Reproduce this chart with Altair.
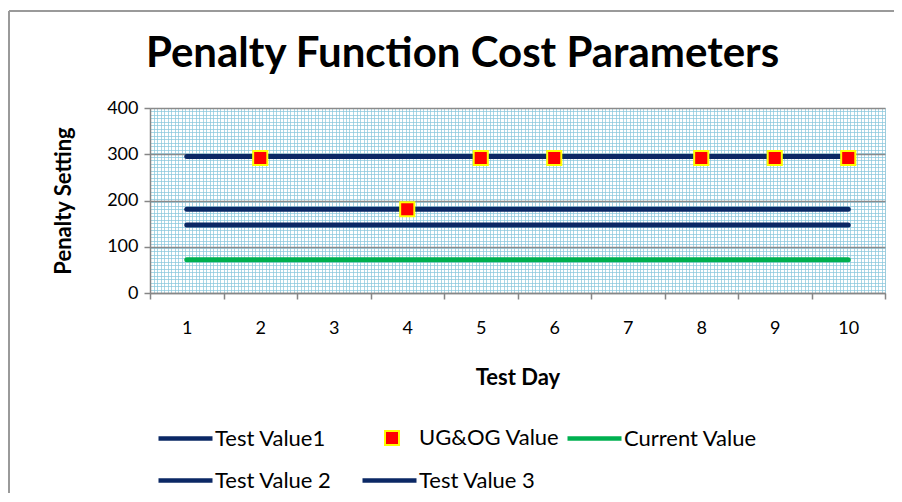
import altair as alt
import pandas as pd

days = ["1", "2", "3", "4", "5", "6", "7", "8", "9", "10"]
test_value1 = [295, 295, 295, 295, 295, 295, 295, 295, 295, 295]
test_value2 = [181, 181, 181, 181, 181, 181, 181, 181, 181, 181]
test_value3 = [147, 147, 147, 147, 147, 147, 147, 147, 147, 147]
current_value = [72, 72, 72, 72, 72, 72, 72, 72, 72, 72]
ug_days = ["2", "4", "5", "6", "8", "9", "10"]
ug_values = [292, 181, 292, 292, 292, 292, 292]

NAVY = "#0b2865"
GREEN = "#00b050"
RED = "#ff0000"
YELLOW = "#ffff00"
FONT = "Lato"

W, H = 735, 185

# legend placement (relative to plot area), one single-entry legend per series
legend_pos = {
    "Test Value1": (6, 301),
    "Test Value 2": (6, 343),
    "Test Value 3": (210, 343),
    "Current Value": (415, 301),
}


def line_df(name, vals):
    return pd.DataFrame({"day": days, "value": vals, "series": [name] * len(days)})


x_enc = alt.X(
    "day:N",
    sort=days,
    scale=alt.Scale(type="band", paddingInner=0, paddingOuter=0),
    axis=alt.Axis(
        title="Test Day",
        titleFont=FONT, titleFontSize=22, titleFontWeight="bold", titleColor="#000000",
        titlePadding=30,
        labelFont=FONT, labelFontSize=18, labelColor="#000000", labelAngle=0,
        labelPadding=20,
        tickBand="extent", tickSize=6, tickColor="#868686", tickWidth=1.5,
        domainColor="#868686", domainWidth=1.5,
        grid=False,
    ),
)
y_enc = alt.Y(
    "value:Q",
    scale=alt.Scale(domain=[0, 400], nice=False),
    axis=alt.Axis(
        title="Penalty Setting",
        titleFont=FONT, titleFontSize=22, titleFontWeight="bold", titleColor="#000000",
        titlePadding=31,
        labelFont=FONT, labelFontSize=18, labelColor="#000000", labelPadding=6,
        values=[0, 100, 200, 300, 400],
        tickSize=6, tickColor="#868686", tickWidth=1.5,
        domainColor="#868686", domainWidth=1.5,
        grid=True, gridColor="#8a8a8a", gridWidth=1.5,
    ),
)


def line_layer(name, vals, col):
    lx, ly = legend_pos[name]
    return alt.Chart(line_df(name, vals)).mark_line(strokeWidth=5, strokeCap="round").encode(
        x=x_enc,
        y=y_enc,
        color=alt.Color(
            "series:N",
            scale=alt.Scale(domain=[name], range=[col]),
            legend=alt.Legend(
                title=None, orient="none", legendX=lx, legendY=ly, padding=0,
                symbolType="stroke", symbolSize=2916, symbolStrokeWidth=4.5,
                labelFont=FONT, labelFontSize=22, labelColor="#000000", labelOffset=0,
            ),
        ),
    )


points = alt.Chart(pd.DataFrame({"day": ug_days, "value": ug_values,
                                 "series": ["UG&OG Value"] * len(ug_days)})).mark_square(
    size=200, filled=True, stroke=YELLOW, strokeWidth=2, opacity=1
).encode(
    x=x_enc,
    y=y_enc,
    color=alt.Color(
        "series:N",
        scale=alt.Scale(domain=["UG&OG Value"], range=[RED]),
        legend=alt.Legend(
            title=None, orient="none", legendX=231, legendY=319, padding=0,
            symbolType="square", symbolSize=196, symbolStrokeWidth=2,
            symbolStrokeColor=YELLOW, symbolFillColor=RED, symbolOpacity=1,
            labelFont=FONT, labelFontSize=22, labelColor="#000000", labelOffset=16,
        ),
    ),
)

main = alt.layer(
    line_layer("Test Value1", test_value1, NAVY),
    line_layer("Test Value 2", test_value2, NAVY),
    line_layer("Test Value 3", test_value3, NAVY),
    line_layer("Current Value", current_value, GREEN),
    points,
).resolve_scale(color="independent")

# fine background grid texture (decorative)
grid_x = list(range(0, 211))
grid_y = list(range(0, 54))
texture = alt.Chart(pd.DataFrame({"gx": [0], "gy": [0]})).mark_point(opacity=0).encode(
    x=alt.X("gx:Q", scale=alt.Scale(domain=[0, 210], nice=False, zero=False),
            axis=alt.Axis(values=grid_x, grid=True, gridColor="#86c6dc", gridWidth=1, gridOpacity=0.7,
                          labels=False, ticks=False, domain=False, title=None, orient="top")),
    y=alt.Y("gy:Q", scale=alt.Scale(domain=[0, 53], nice=False, zero=False),
            axis=alt.Axis(values=grid_y, grid=True, gridColor="#86c6dc", gridWidth=1, gridOpacity=0.7,
                          labels=False, ticks=False, domain=False, title=None, orient="right")),
)

frame_df = pd.DataFrame({"f": [0]})
border_left = alt.Chart(frame_df).mark_rule(color="#9a9a9a", strokeWidth=2).encode(
    x=alt.value(-141), y=alt.value(-97), y2=alt.value(420)
)
border_top = alt.Chart(frame_df).mark_rule(color="#9a9a9a", strokeWidth=2).encode(
    x=alt.value(-141), x2=alt.value(760), y=alt.value(-97)
)

chart = alt.layer(texture, main, border_left, border_top).resolve_scale(
    x="independent", y="independent"
).properties(
    width=W,
    height=H,
    padding={"left": 142, "top": 100, "right": 9, "bottom": 200},
    autosize=alt.AutoSizeParams(type="none"),
    title=alt.TitleParams(
        "Penalty Function Cost Parameters",
        font=FONT, fontSize=42, fontWeight="bold", color="#000000",
        anchor="middle", baseline="alphabetic", dx=-55, offset=-99,
    ),
).configure_view(
    fill="#c5e6f0", stroke=None
).configure(background="#ffffff")

chart.save("out.html", embed_options={"renderer": "svg", "actions": False})
